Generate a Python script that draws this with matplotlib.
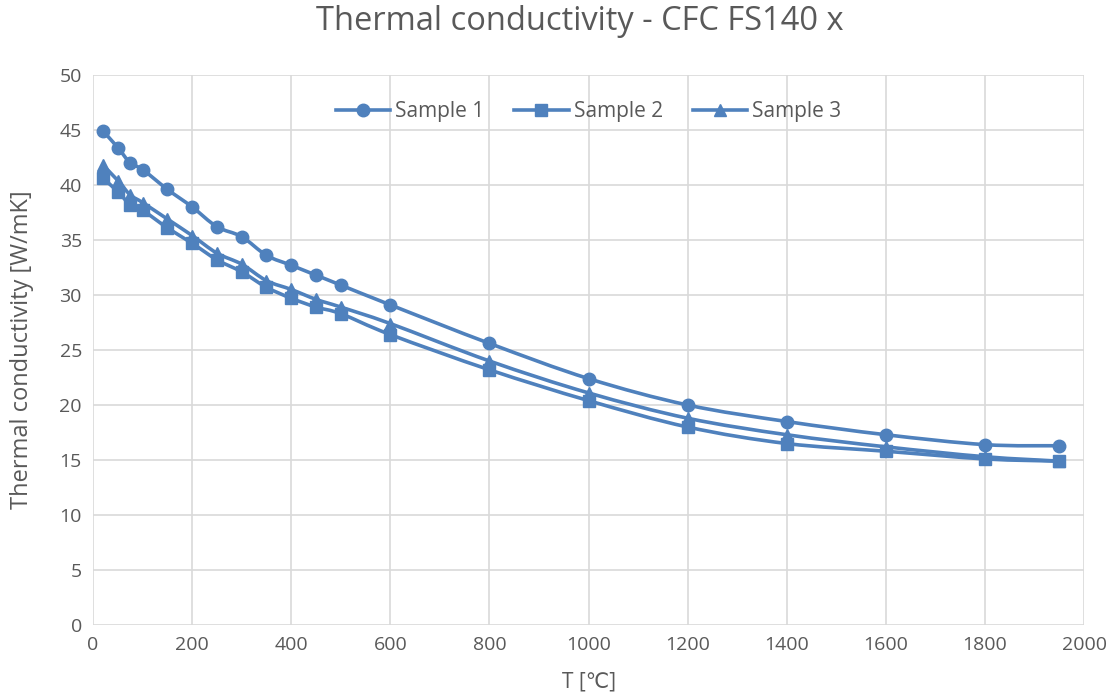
import numpy as np
import matplotlib
matplotlib.use("Agg")
import matplotlib.pyplot as plt
from matplotlib.path import Path
from matplotlib.patches import PathPatch
from matplotlib.lines import Line2D

# Temperature [°C] and thermal conductivity [W/mK]
temperature = [20, 50, 75, 100, 150, 200, 250, 300, 350, 400, 450, 500,
               600, 800, 1000, 1200, 1400, 1600, 1800, 1950]
sample_1 = [44.9, 43.4, 42.0, 41.4, 39.6, 38.0, 36.2, 35.3, 33.6, 32.7, 31.8, 30.9,
            29.1, 25.6, 22.4, 20.0, 18.5, 17.3, 16.4, 16.3]
sample_2 = [40.6, 39.4, 38.2, 37.7, 36.1, 34.7, 33.2, 32.1, 30.7, 29.7, 28.9, 28.3,
            26.4, 23.2, 20.4, 18.0, 16.5, 15.8, 15.1, 14.9]
sample_3 = [41.8, 40.4, 39.1, 38.4, 36.9, 35.4, 33.8, 32.8, 31.3, 30.5, 29.6, 28.9,
            27.4, 24.0, 21.1, 18.8, 17.3, 16.2, 15.3, 14.9]

series = [("Sample 1", sample_1, "o", 9),
          ("Sample 2", sample_2, "s", 9),
          ("Sample 3", sample_3, "^", 9)]

blue = "#4f81bd"
grid_gray = "#d9d9d9"
text_gray = "#595959"

plt.rcParams["font.family"] = ["Open Sans", "DejaVu Sans"]


def smooth_path(x, y, tension=1 / 6):
    """Cubic Bezier path through the points (Catmull-Rom style smoothing)."""
    x = np.asarray(x, float)
    y = np.asarray(y, float)
    n = len(x)
    verts = [(x[0], y[0])]
    codes = [Path.MOVETO]
    for i in range(n - 1):
        p0 = np.array([x[max(i - 1, 0)], y[max(i - 1, 0)]])
        p1 = np.array([x[i], y[i]])
        p2 = np.array([x[i + 1], y[i + 1]])
        p3 = np.array([x[min(i + 2, n - 1)], y[min(i + 2, n - 1)]])
        c1 = p1 + (p2 - p0) * tension
        c2 = p2 - (p3 - p1) * tension
        verts += [tuple(c1), tuple(c2), tuple(p2)]
        codes += [Path.CURVE4] * 3
    return Path(verts, codes)


fig = plt.figure(figsize=(11.13, 7.0), dpi=100)
ax = fig.add_axes([0.0836, 0.107, 0.8904, 0.786])

handles = []
for label, values, marker, ms in series:
    path = smooth_path(temperature, values)
    ax.add_patch(PathPatch(path, facecolor="none", edgecolor=blue, lw=2.6,
                           capstyle="round", joinstyle="round", zorder=3))
    ax.plot(temperature, values, linestyle="none", marker=marker, ms=ms,
            color=blue, zorder=4)
    handles.append(Line2D([], [], color=blue, lw=2.6, marker=marker, ms=ms,
                          label=label))

ax.set_xlim(0, 2000)
ax.set_ylim(0, 50)
ax.set_xticks(np.arange(0, 2001, 200))
ax.set_yticks(np.arange(0, 51, 5))

ax.grid(True, color=grid_gray, lw=1.2)
ax.set_axisbelow(True)
for side in ["top", "right", "left", "bottom"]:
    ax.spines[side].set_visible(False)
ax.tick_params(length=0, labelsize=14, colors=text_gray, pad=8)

ax.set_xlabel("T [\u2103]", fontsize=15, color=text_gray)
ax.xaxis.set_label_coords(0.5, -0.085)
ax.set_ylabel("Thermal conductivity [W/mK]", fontsize=17, color=text_gray)
ax.yaxis.set_label_coords(-0.06, 0.5)

fig.text(0.521, 0.969, "Thermal conductivity - CFC FS140 x", fontsize=23.5,
         color=text_gray, ha="center", va="center")

ax.legend(handles=handles, loc="center", bbox_to_anchor=(0.5, 0.933),
          ncol=3, frameon=False, fontsize=15, handlelength=2.6,
          columnspacing=1.45, handletextpad=0.25, labelcolor=text_gray)

fig.savefig("out.png", dpi=100)
